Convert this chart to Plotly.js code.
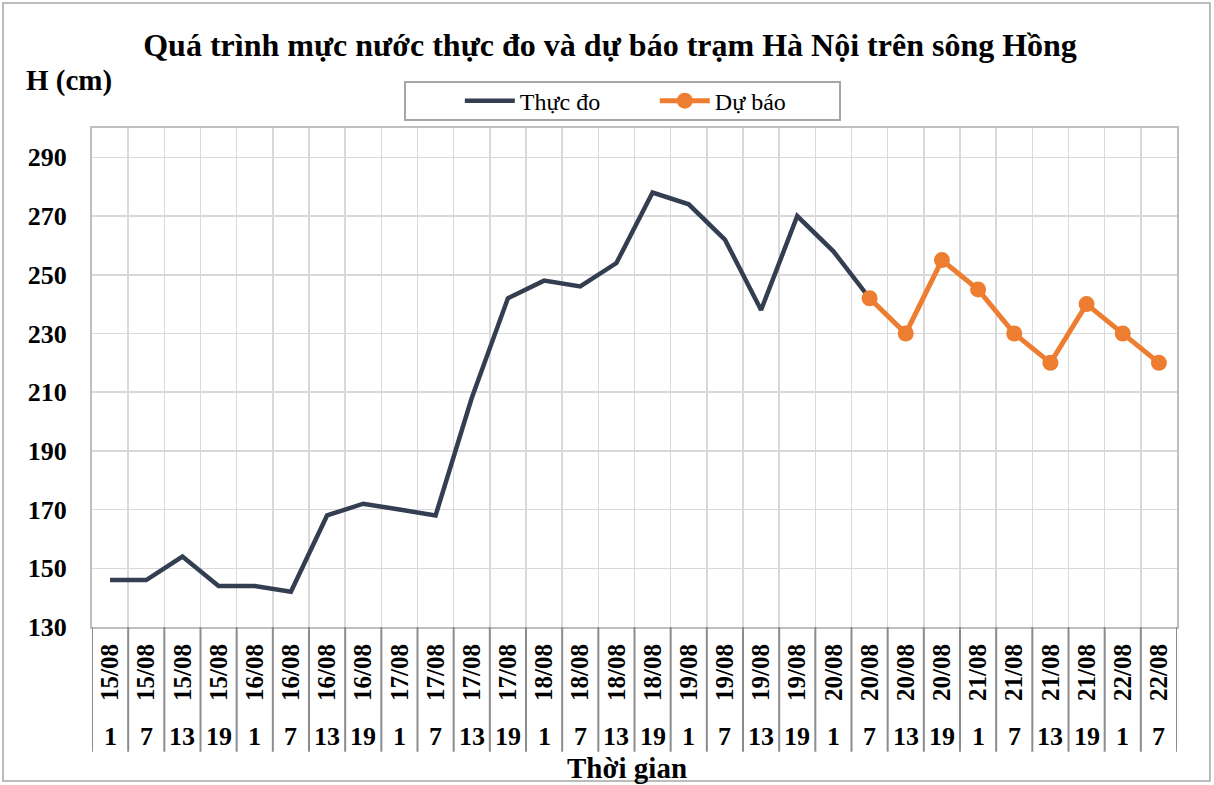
<!DOCTYPE html>
<html>
<head>
<meta charset="utf-8">
<script src="https://cdn.plot.ly/plotly-3.0.1.min.js"></script>
<style>
html,body{margin:0;padding:0;background:#fff;}
#chart{width:1214px;height:785px;}
</style>
</head>
<body>
<div id="chart"></div>
<script>
// ---- data ----
const dates = ["15/08","15/08","15/08","15/08","16/08","16/08","16/08","16/08","17/08","17/08","17/08","17/08","18/08","18/08","18/08","18/08","19/08","19/08","19/08","19/08","20/08","20/08","20/08","20/08","21/08","21/08","21/08","21/08","22/08","22/08"];
const hours = ["1","7","13","19","1","7","13","19","1","7","13","19","1","7","13","19","1","7","13","19","1","7","13","19","1","7","13","19","1","7"];
const observed = [146,146,154,144,144,142,168,172,170,168,208,242,248,246,254,278,274,262,238,270,258,242,null,null,null,null,null,null,null,null];
const forecast = [null,null,null,null,null,null,null,null,null,null,null,null,null,null,null,null,null,null,null,null,null,242,230,255,245,230,220,240,230,220];
const seriesNames = ["Thực đo","Dự báo"];
const title = "Quá trình mực nước thực đo và dự báo trạm Hà Nội trên sông Hồng";
const yTitle = "H (cm)";
const xTitle = "Thời gian";

// ---- build ----
const cats = dates.map((d,i)=>d+" "+hours[i]);
const serif = "Liberation Serif";

const traces = [
  {x:cats, y:observed, name:seriesNames[0], type:"scatter", mode:"lines",
   line:{color:"#333F50", width:4.5}, connectgaps:false},
  {x:cats, y:forecast, name:seriesNames[1], type:"scatter", mode:"lines+markers",
   line:{color:"#ED7D31", width:5}, marker:{color:"#ED7D31", size:16}}
];

const shapes = [];
for (let i=0;i<=cats.length;i++){
  shapes.push({type:"line", xref:"x", yref:"paper", x0:i-0.5, x1:i-0.5, y0:0, y1:-0.25,
    line:{color:"#8C8C8C", width:2}});
}
// outer chart border
shapes.push({type:"rect", xref:"paper", yref:"paper", x0:-0.082, x1:1.0304, y0:-0.3086, y1:1.2505,
  line:{color:"#A6A6A6", width:1.5}, fillcolor:"rgba(0,0,0,0)"});
// legend frame
shapes.push({type:"rect", xref:"paper", yref:"paper", x0:0.2885, x1:0.6894, y0:1.016, y1:1.092,
  line:{color:"#A6A6A6", width:2}, fillcolor:"rgba(0,0,0,0)"});

const annotations = hours.map((h,i)=>({
  x:cats[i], xref:"x", y:-0.2204, yref:"paper", text:"<b>"+h+"</b>", showarrow:false,
  xanchor:"center", yanchor:"middle", font:{family:serif, size:26, color:"#000"}
}));
annotations.push({x:0.493, xref:"paper", y:-0.2826, yref:"paper", text:"<b>"+xTitle+"</b>",
  showarrow:false, xanchor:"center", yanchor:"middle", font:{family:serif, size:29, color:"#000"}});
annotations.push({x:-0.0212, xref:"paper", y:1.0942, yref:"paper", text:"<b>"+yTitle+"</b>",
  showarrow:false, xanchor:"center", yanchor:"middle", font:{family:serif, size:29, color:"#000"}});

const layout = {
  width:1214, height:785,
  margin:{l:92, r:37, t:128, b:158},
  paper_bgcolor:"#fff", plot_bgcolor:"#fff",
  font:{family:serif},
  title:{text:"<b>"+title+"</b>", x:0.5025, xanchor:"center", y:0.943, yanchor:"middle",
    font:{family:serif, size:32, color:"#000"}},
  showlegend:true,
  legend:{orientation:"h", x:0.339, xanchor:"left", y:1.054, yanchor:"middle",
    borderwidth:0, bgcolor:"rgba(0,0,0,0)",
    font:{family:serif, size:24, color:"#000"}, entrywidth:130, itemwidth:50},
  xaxis:{type:"category", categoryorder:"array", categoryarray:cats,
    tickvals:cats, ticktext:dates.map(d=>"<b>"+d+"</b>"), tickangle:-90,
    tickfont:{family:serif, size:25, color:"#000"},
    tickson:"boundaries", ticks:"outside", ticklen:18, tickcolor:"rgba(0,0,0,0)",
    ticklabelstandoff:5,
    showgrid:true, gridcolor:"#D9D9D9", gridwidth:1.5,
    showline:true, linecolor:"#BFBFBF", linewidth:2, mirror:true,
    range:[-0.5, cats.length-0.5], fixedrange:true},
  yaxis:{range:[130,300], tick0:130, dtick:20, tickmode:"linear",
    tickfont:{family:serif, size:26, color:"#000", weight:"bold"},
    tickformat:"d", ticklabelstandoff:18,
    showgrid:true, gridcolor:"#D9D9D9", gridwidth:1.5, zeroline:false,
    showline:true, linecolor:"#BFBFBF", linewidth:2, mirror:true, fixedrange:true},
  shapes:shapes,
  annotations:annotations
};

Plotly.newPlot("chart", traces, layout, {displayModeBar:false, staticPlot:true});
</script>
</body>
</html>
